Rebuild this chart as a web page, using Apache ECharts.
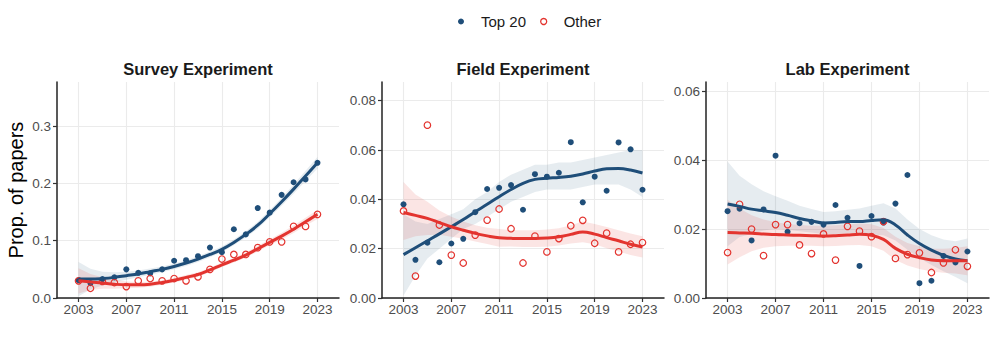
<!DOCTYPE html>
<html>
<head>
<meta charset="utf-8">
<script src="https://cdn.jsdelivr.net/npm/echarts@6/dist/echarts.min.js"></script>
<style>
  html, body { margin: 0; padding: 0; background: #fff; }
  #chart { width: 997px; height: 349px; }
</style>
</head>
<body>
<div id="chart"></div>
<script>
const years = [2003, 2004, 2005, 2006, 2007, 2008, 2009, 2010, 2011, 2012, 2013,
  2014, 2015, 2016, 2017, 2018, 2019, 2020, 2021, 2022, 2023]
const xTicks = [2003, 2007, 2011, 2015, 2019, 2023]
const panelTitles = ['Survey Experiment', 'Field Experiment', 'Lab Experiment']
const yTicksSurvey = [0, 0.1, 0.2, 0.3]
const yTicksField = [0, 0.02, 0.04, 0.06, 0.08]
const yTicksLab = [0, 0.02, 0.04, 0.06]

// Survey experiment
const surveyTop = [0.031, 0.026, 0.033, 0.036, 0.050, 0.044, 0.043, 0.050, 0.065, 0.066, 0.073,
  0.088, 0.080, 0.120, 0.111, 0.157, 0.149, 0.180, 0.202, 0.207, 0.236]
const surveyOther = [0.030, 0.017, 0.029, 0.027, 0.020, 0.030, 0.034, 0.030, 0.034, 0.030, 0.037,
  0.050, 0.068, 0.076, 0.076, 0.088, 0.098, 0.098, 0.125, 0.125, 0.146]
const surveyTopFit = [0.033, 0.033, 0.034, 0.036, 0.039, 0.042, 0.046, 0.050, 0.055, 0.061, 0.068,
  0.076, 0.085, 0.097, 0.111, 0.127, 0.147, 0.168, 0.190, 0.213, 0.236]
const surveyTopHi = [0.063, 0.051, 0.046, 0.045, 0.046, 0.048, 0.0515, 0.055, 0.060, 0.066, 0.073,
  0.081, 0.090, 0.102, 0.1165, 0.133, 0.153, 0.175, 0.198, 0.222, 0.246]
const surveyTopLo = [0.003, 0.015, 0.022, 0.027, 0.032, 0.036, 0.0405, 0.045, 0.050, 0.056, 0.063,
  0.071, 0.080, 0.092, 0.1055, 0.121, 0.141, 0.161, 0.182, 0.204, 0.226]
const surveyOtherFit = [0.030, 0.028, 0.026, 0.024, 0.023, 0.023, 0.024, 0.027, 0.031, 0.036, 0.041,
  0.049, 0.058, 0.066, 0.075, 0.086, 0.097, 0.108, 0.120, 0.133, 0.146]
const surveyOtherHi = [0.052, 0.042, 0.036, 0.032, 0.029, 0.028, 0.0285, 0.031, 0.035, 0.040, 0.045,
  0.053, 0.062, 0.070, 0.0795, 0.091, 0.102, 0.114, 0.1265, 0.140, 0.154]
const surveyOtherLo = [0.008, 0.014, 0.016, 0.016, 0.017, 0.018, 0.0195, 0.023, 0.027, 0.032, 0.037,
  0.045, 0.054, 0.062, 0.0705, 0.081, 0.092, 0.102, 0.1135, 0.126, 0.138]

// Field experiment
const fieldTop = [0.038, 0.0155, 0.0224, 0.0145, 0.0221, 0.024, 0.0348, 0.0442, 0.0447, 0.0458, 0.0358,
  0.0502, 0.0492, 0.0508, 0.0632, 0.0388, 0.0492, 0.0435, 0.0631, 0.0603, 0.0439]
const fieldOther = [0.0353, 0.0089, 0.0701, 0.0296, 0.0174, 0.0142, 0.0255, 0.0316, 0.0361, 0.0281, 0.0142,
  0.0251, 0.0187, 0.0241, 0.0293, 0.0315, 0.0222, 0.0263, 0.0187, 0.0218, 0.0225]
const fieldTopFit = [0.0176, 0.0204, 0.0232, 0.0260, 0.0289, 0.0318, 0.0350, 0.0380, 0.0411, 0.0440, 0.0465,
  0.0481, 0.0486, 0.0489, 0.0494, 0.0503, 0.0515, 0.0524, 0.0525, 0.0519, 0.0507]
const fieldTopHi = [0.034, 0.031, 0.030, 0.032, 0.034, 0.036, 0.040, 0.043, 0.047, 0.050, 0.052,
  0.054, 0.054, 0.055, 0.055, 0.056, 0.057, 0.058, 0.059, 0.060, 0.060]
const fieldTopLo = [0.001, 0.009, 0.016, 0.020, 0.024, 0.028, 0.030, 0.033, 0.036, 0.039, 0.041,
  0.043, 0.044, 0.044, 0.044, 0.045, 0.046, 0.046, 0.046, 0.044, 0.041]
const fieldOtherFit = [0.0347, 0.0335, 0.0323, 0.0306, 0.0289, 0.0275, 0.0262, 0.0252, 0.0244, 0.0242, 0.0241,
  0.0241, 0.0243, 0.0248, 0.0258, 0.0268, 0.0259, 0.0245, 0.0232, 0.0218, 0.0207]
const fieldOtherHi = [0.047, 0.042, 0.039, 0.0355, 0.033, 0.031, 0.0295, 0.0285, 0.028, 0.0275, 0.0275,
  0.0275, 0.0278, 0.0283, 0.0295, 0.031, 0.030, 0.0288, 0.0275, 0.0262, 0.025]
const fieldOtherLo = [0.0235, 0.025, 0.0255, 0.0257, 0.0248, 0.024, 0.0229, 0.0219, 0.0208, 0.0209, 0.0207,
  0.0207, 0.0208, 0.0213, 0.0221, 0.0226, 0.0218, 0.0202, 0.0189, 0.0174, 0.0164]

// Lab experiment
const labTop = [0.0252, 0.0259, 0.0167, 0.0257, 0.0413, 0.0192, 0.0217, 0.0221, 0.0213, 0.0270, 0.0233,
  0.0093, 0.0238, 0.0219, 0.0274, 0.0357, 0.0043, 0.0050, 0.0122, 0.0103, 0.0135]
const labOther = [0.0132, 0.0272, 0.0200, 0.0123, 0.0213, 0.0213, 0.0154, 0.0129, 0.0186, 0.0110, 0.0208,
  0.0194, 0.0178, 0.0222, 0.0115, 0.0126, 0.0131, 0.0074, 0.0102, 0.0140, 0.0092]
const labTopFit = [0.0273, 0.0266, 0.0258, 0.0253, 0.0248, 0.0240, 0.0231, 0.0224, 0.0218, 0.0219, 0.0222,
  0.0222, 0.0225, 0.0227, 0.0212, 0.0183, 0.0158, 0.0139, 0.0124, 0.0113, 0.0108]
const labTopHi = [0.0396, 0.0355, 0.0330, 0.0310, 0.0295, 0.0282, 0.0268, 0.0258, 0.0250, 0.0252, 0.0256,
  0.0260, 0.0268, 0.0275, 0.0260, 0.0228, 0.0200, 0.0182, 0.0170, 0.0165, 0.0173]
const labTopLo = [0.0150, 0.0177, 0.0186, 0.0196, 0.0201, 0.0198, 0.0194, 0.0190, 0.0186, 0.0186, 0.0188,
  0.0186, 0.0184, 0.0182, 0.0167, 0.0140, 0.0116, 0.0096, 0.0078, 0.0061, 0.0043]
const labOtherFit = [0.0190, 0.0189, 0.0188, 0.0186, 0.0184, 0.0183, 0.0182, 0.0181, 0.0180, 0.0181, 0.0183,
  0.0185, 0.0182, 0.0170, 0.0144, 0.0127, 0.0117, 0.0110, 0.0108, 0.0108, 0.0108]
const labOtherHi = [0.0285, 0.0260, 0.0240, 0.0228, 0.0220, 0.0215, 0.0212, 0.0210, 0.0210, 0.0211, 0.0213,
  0.0216, 0.0214, 0.0203, 0.0178, 0.0160, 0.0150, 0.0143, 0.0143, 0.0145, 0.0150]
const labOtherLo = [0.0097, 0.0118, 0.0136, 0.0146, 0.0150, 0.0152, 0.0152, 0.0152, 0.0150, 0.0151, 0.0153,
  0.0154, 0.0150, 0.0137, 0.0110, 0.0094, 0.0084, 0.0077, 0.0073, 0.0071, 0.0066]

const BLUE = '#1f4e79'
const RED = '#e3342f'
const FONT = 'Liberation Sans, Arial, sans-serif'

const panels = [
  { left: 57, width: 282, yMax: 0.377, ticks: yTicksSurvey, dec: 1,
    top: surveyTop, other: surveyOther, topFit: surveyTopFit, topHi: surveyTopHi, topLo: surveyTopLo,
    otherFit: surveyOtherFit, otherHi: surveyOtherHi, otherLo: surveyOtherLo },
  { left: 382, width: 282, yMax: 0.0876, ticks: yTicksField, dec: 2,
    top: fieldTop, other: fieldOther, topFit: fieldTopFit, topHi: fieldTopHi, topLo: fieldTopLo,
    otherFit: fieldOtherFit, otherHi: fieldOtherHi, otherLo: fieldOtherLo },
  { left: 706, width: 283, yMax: 0.0627, ticks: yTicksLab, dec: 2,
    top: labTop, other: labOther, topFit: labTopFit, topHi: labTopHi, topLo: labTopLo,
    otherFit: labOtherFit, otherHi: labOtherHi, otherLo: labOtherLo }
]

function pairs(vals) {
  return years.map((y, i) => [y, vals[i]])
}

function ribbon(idx, lo, hi, fill) {
  return {
    type: 'custom',
    xAxisIndex: idx,
    yAxisIndex: idx,
    silent: true,
    z: 1,
    data: [[2013, 0]],
    renderItem(params, api) {
      const pts = []
      years.forEach((y, i) => pts.push(api.coord([y, hi[i]])))
      for (let i = years.length - 1; i >= 0; i--) {
        pts.push(api.coord([years[i], lo[i]]))
      }
      return { type: 'polygon', shape: { points: pts }, style: { fill: fill } }
    }
  }
}

function fitLine(idx, vals, color) {
  return {
    type: 'line',
    xAxisIndex: idx,
    yAxisIndex: idx,
    data: pairs(vals),
    smooth: 0.4,
    showSymbol: false,
    silent: true,
    z: 4,
    lineStyle: { color: color, width: 3 }
  }
}

const chart = echarts.init(document.getElementById('chart'), null, { renderer: 'svg' })

const grid = []
const xAxis = []
const yAxis = []
const title = []
const series = []

panels.forEach((p, i) => {
  grid.push({ left: p.left, width: p.width, top: 82, height: 216 })
  title.push({
    text: panelTitles[i],
    left: p.left + p.width / 2,
    top: 60,
    textAlign: 'center',
    padding: 0,
    textStyle: { fontFamily: FONT, fontSize: 16.5, fontWeight: 'bold', color: '#1a1a1a' }
  })
  xAxis.push({
    type: 'value',
    gridIndex: i,
    min: 2001.2,
    max: 2024.8,
    axisLine: { show: true, lineStyle: { color: '#222', width: 1.5 } },
    axisTick: { show: true, length: 4, customValues: xTicks, lineStyle: { color: '#333', width: 1.2 } },
    axisLabel: {
      customValues: xTicks,
      margin: 4,
      color: '#4d4d4d',
      fontFamily: FONT,
      fontSize: 13.5,
      formatter: v => String(v)
    },
    splitLine: { show: true, lineStyle: { color: '#ebebeb', width: 1.1 } }
  })
  yAxis.push({
    type: 'value',
    gridIndex: i,
    min: 0,
    max: p.yMax,
    name: i === 0 ? 'Prop. of papers' : '',
    nameLocation: 'middle',
    nameGap: 31,
    nameTextStyle: { fontFamily: FONT, fontSize: 20, color: '#000' },
    axisLine: { show: true, lineStyle: { color: '#222', width: 1.5 } },
    axisTick: { show: true, length: 4, customValues: p.ticks, lineStyle: { color: '#333', width: 1.2 } },
    axisLabel: {
      customValues: p.ticks,
      margin: 6,
      color: '#4d4d4d',
      fontFamily: FONT,
      fontSize: 13.5,
      formatter: v => v.toFixed(p.dec)
    },
    splitLine: { show: true, lineStyle: { color: '#ebebeb', width: 1.1 } }
  })

  series.push(ribbon(i, p.topLo, p.topHi, 'rgba(31,78,121,0.11)'))
  series.push(ribbon(i, p.otherLo, p.otherHi, 'rgba(227,52,47,0.13)'))
  series.push({
    name: 'Top 20',
    type: 'scatter',
    xAxisIndex: i,
    yAxisIndex: i,
    data: pairs(p.top),
    symbol: 'circle',
    symbolSize: 6,
    z: 3,
    itemStyle: { color: BLUE, opacity: 1 }
  })
  series.push({
    name: 'Other',
    type: 'scatter',
    xAxisIndex: i,
    yAxisIndex: i,
    data: pairs(p.other),
    symbol: 'circle',
    symbolSize: 6.5,
    z: 3,
    itemStyle: { color: 'rgba(255,255,255,0)', borderColor: RED, borderWidth: 1.2, opacity: 1 }
  })
  series.push(fitLine(i, p.topFit, BLUE))
  series.push(fitLine(i, p.otherFit, RED))
})

chart.setOption({
  animation: false,
  backgroundColor: '#fff',
  title: title,
  legend: {
    top: 14,
    left: 458,
    padding: 0,
    itemWidth: 6,
    itemHeight: 6,
    itemGap: 14,
    textStyle: { fontFamily: FONT, fontSize: 15, color: '#1a1a1a', padding: [0, 0, 0, 12] },
    data: [
      { name: 'Top 20', icon: 'circle', itemStyle: { color: BLUE } },
      { name: 'Other', icon: 'circle', itemStyle: { color: '#fff', borderColor: RED, borderWidth: 1.3 } }
    ]
  },
  grid: grid,
  xAxis: xAxis,
  yAxis: yAxis,
  series: series
})
</script>
</body>
</html>
